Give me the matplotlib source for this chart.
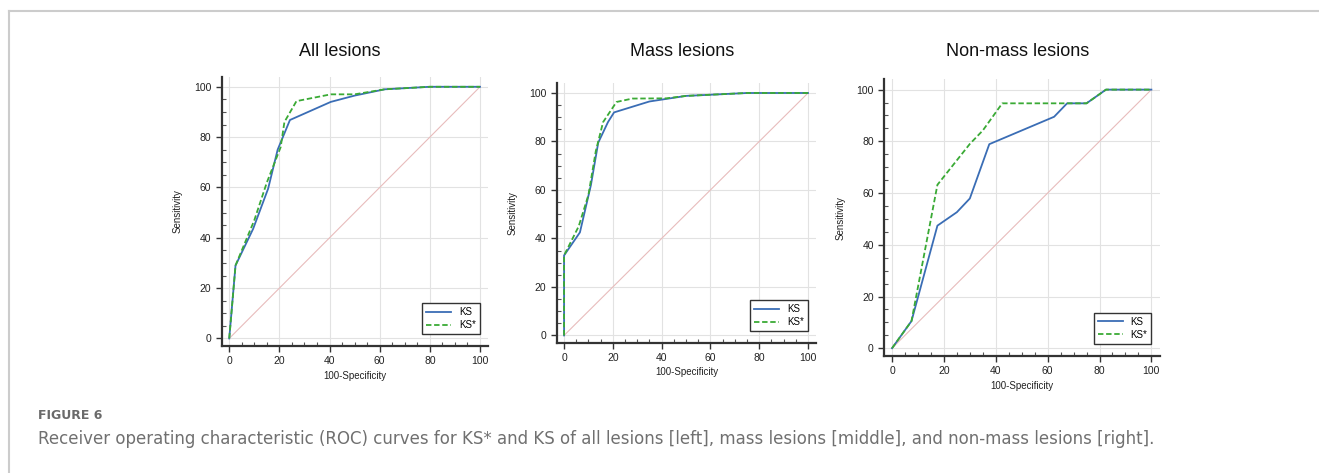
import matplotlib
matplotlib.use("Agg")
import matplotlib.pyplot as plt
from matplotlib.lines import Line2D
from matplotlib.ticker import MultipleLocator

plt.rcParams['font.family'] = ['Liberation Sans', 'DejaVu Sans']

# ROC curve points (100-Specificity, Sensitivity)
titles = ["All lesions", "Mass lesions", "Non-mass lesions"]

all_ks_x = [0, 2.5, 9.5, 15.5, 19.3, 24.2, 40.5, 50, 62, 80, 100]
all_ks_y = [0, 29, 43.5, 59.5, 75, 86.8, 94, 96.5, 99, 100, 100]
all_kss_x = [0, 2.5, 10, 15, 20.5, 22, 26.8, 40.5, 50, 62, 80, 100]
all_kss_y = [0, 29, 47, 62, 76, 86, 94.3, 97, 97, 99, 100, 100]

mass_ks_x = [0, 0, 6.5, 11, 14, 18, 20.5, 35, 50, 75, 100]
mass_ks_y = [0, 33, 42.5, 62, 79.5, 88, 92, 96.5, 98.8, 100, 100]
mass_kss_x = [0, 0, 6, 10, 13, 16, 21.5, 28, 42, 50, 75, 100]
mass_kss_y = [0, 33, 45, 58, 76, 88, 96.3, 97.7, 97.8, 98.8, 100, 100]

nonmass_ks_x = [0, 7.5, 17.5, 25, 30, 37.5, 62.5, 67.5, 75, 82.5, 100]
nonmass_ks_y = [0, 10.5, 47.4, 52.6, 57.9, 78.9, 89.5, 94.7, 94.7, 100, 100]
nonmass_kss_x = [0, 7.5, 17.5, 30, 35, 42.5, 75, 82.5, 100]
nonmass_kss_y = [0, 10.5, 63.2, 79, 84.2, 94.7, 94.7, 100, 100]

panels = [
    (all_ks_x, all_ks_y, all_kss_x, all_kss_y),
    (mass_ks_x, mass_ks_y, mass_kss_x, mass_kss_y),
    (nonmass_ks_x, nonmass_ks_y, nonmass_kss_x, nonmass_kss_y),
]

# axes boxes in figure fractions [left, bottom, width, height]
boxes = [
    [0.1681, 0.2685, 0.2021, 0.5693],
    [0.4221, 0.2755, 0.1966, 0.5484],
    [0.6704, 0.2474, 0.2090, 0.5850],
]
title_x = [340, 682, 1018]

fig = plt.figure(figsize=(13.19, 4.73), dpi=100)

for i, (kx, ky, sx, sy) in enumerate(panels):
    ax = fig.add_axes(boxes[i])
    ax.plot([0, 100], [0, 100], color='#e8bcbc', lw=0.8, zorder=1)
    ax.plot(kx, ky, color='#3a6db5', lw=1.3, label='KS', zorder=3)
    ax.plot(sx, sy, color='#3aaa35', lw=1.3, ls=(0, (3, 1.5)), label='KS*', zorder=4)

    ax.set_xlim(-3, 103.3)
    ax.set_ylim(-3, 104)
    ax.xaxis.set_major_locator(MultipleLocator(20))
    ax.yaxis.set_major_locator(MultipleLocator(20))
    ax.xaxis.set_minor_locator(MultipleLocator(5))
    ax.yaxis.set_minor_locator(MultipleLocator(5))
    ax.grid(True, which='major', color='#e2e2e2', lw=0.8)
    ax.set_axisbelow(True)
    for s in ['top', 'right']:
        ax.spines[s].set_visible(False)
    for s in ['left', 'bottom']:
        ax.spines[s].set_color('#333333')
        ax.spines[s].set_linewidth(1.6)
    ax.tick_params(which='major', direction='out', length=4, width=1, colors='#333333',
                   labelsize=7.5, labelcolor='#222222')
    ax.tick_params(which='minor', direction='in', length=3, width=0.8, colors='#555555')

    ax.set_xlabel('100-Specificity', fontsize=7, color='#222222', labelpad=3)
    ax.set_ylabel('Sensitivity', fontsize=7, color='#222222', labelpad=8)

    leg = ax.legend(loc='lower right', bbox_to_anchor=(0.969, 0.045), borderaxespad=0,
                    fontsize=7, fancybox=False, framealpha=1, edgecolor='#333333',
                    handlelength=2.6, borderpad=0.4, labelspacing=0.3)
    leg.get_frame().set_linewidth(1.0)

    fig.text(title_x[i] / 1319, 1 - 52 / 473, titles[i], ha='center', va='center',
             fontsize=13, color='#111111')

# page frame
fig.add_artist(Line2D([9 / 1319, 1], [1 - 11 / 473, 1 - 11 / 473], color='#cccccc', lw=1.5))
fig.add_artist(Line2D([9 / 1319, 9 / 1319], [0, 1 - 11 / 473], color='#cccccc', lw=1.5))

fig.text(38 / 1319, 1 - 415 / 473, 'FIGURE 6', fontsize=9, fontweight='bold',
         color='#6a6a6a', family=['DejaVu Sans'], va='center')
fig.text(38 / 1319, 1 - 439 / 473,
         'Receiver operating characteristic (ROC) curves for KS* and KS of all lesions [left], '
         'mass lesions [middle], and non-mass lesions [right].',
         fontsize=12, color='#707070', family=['DejaVu Sans'], va='center')

fig.savefig('out.png', dpi=100)
